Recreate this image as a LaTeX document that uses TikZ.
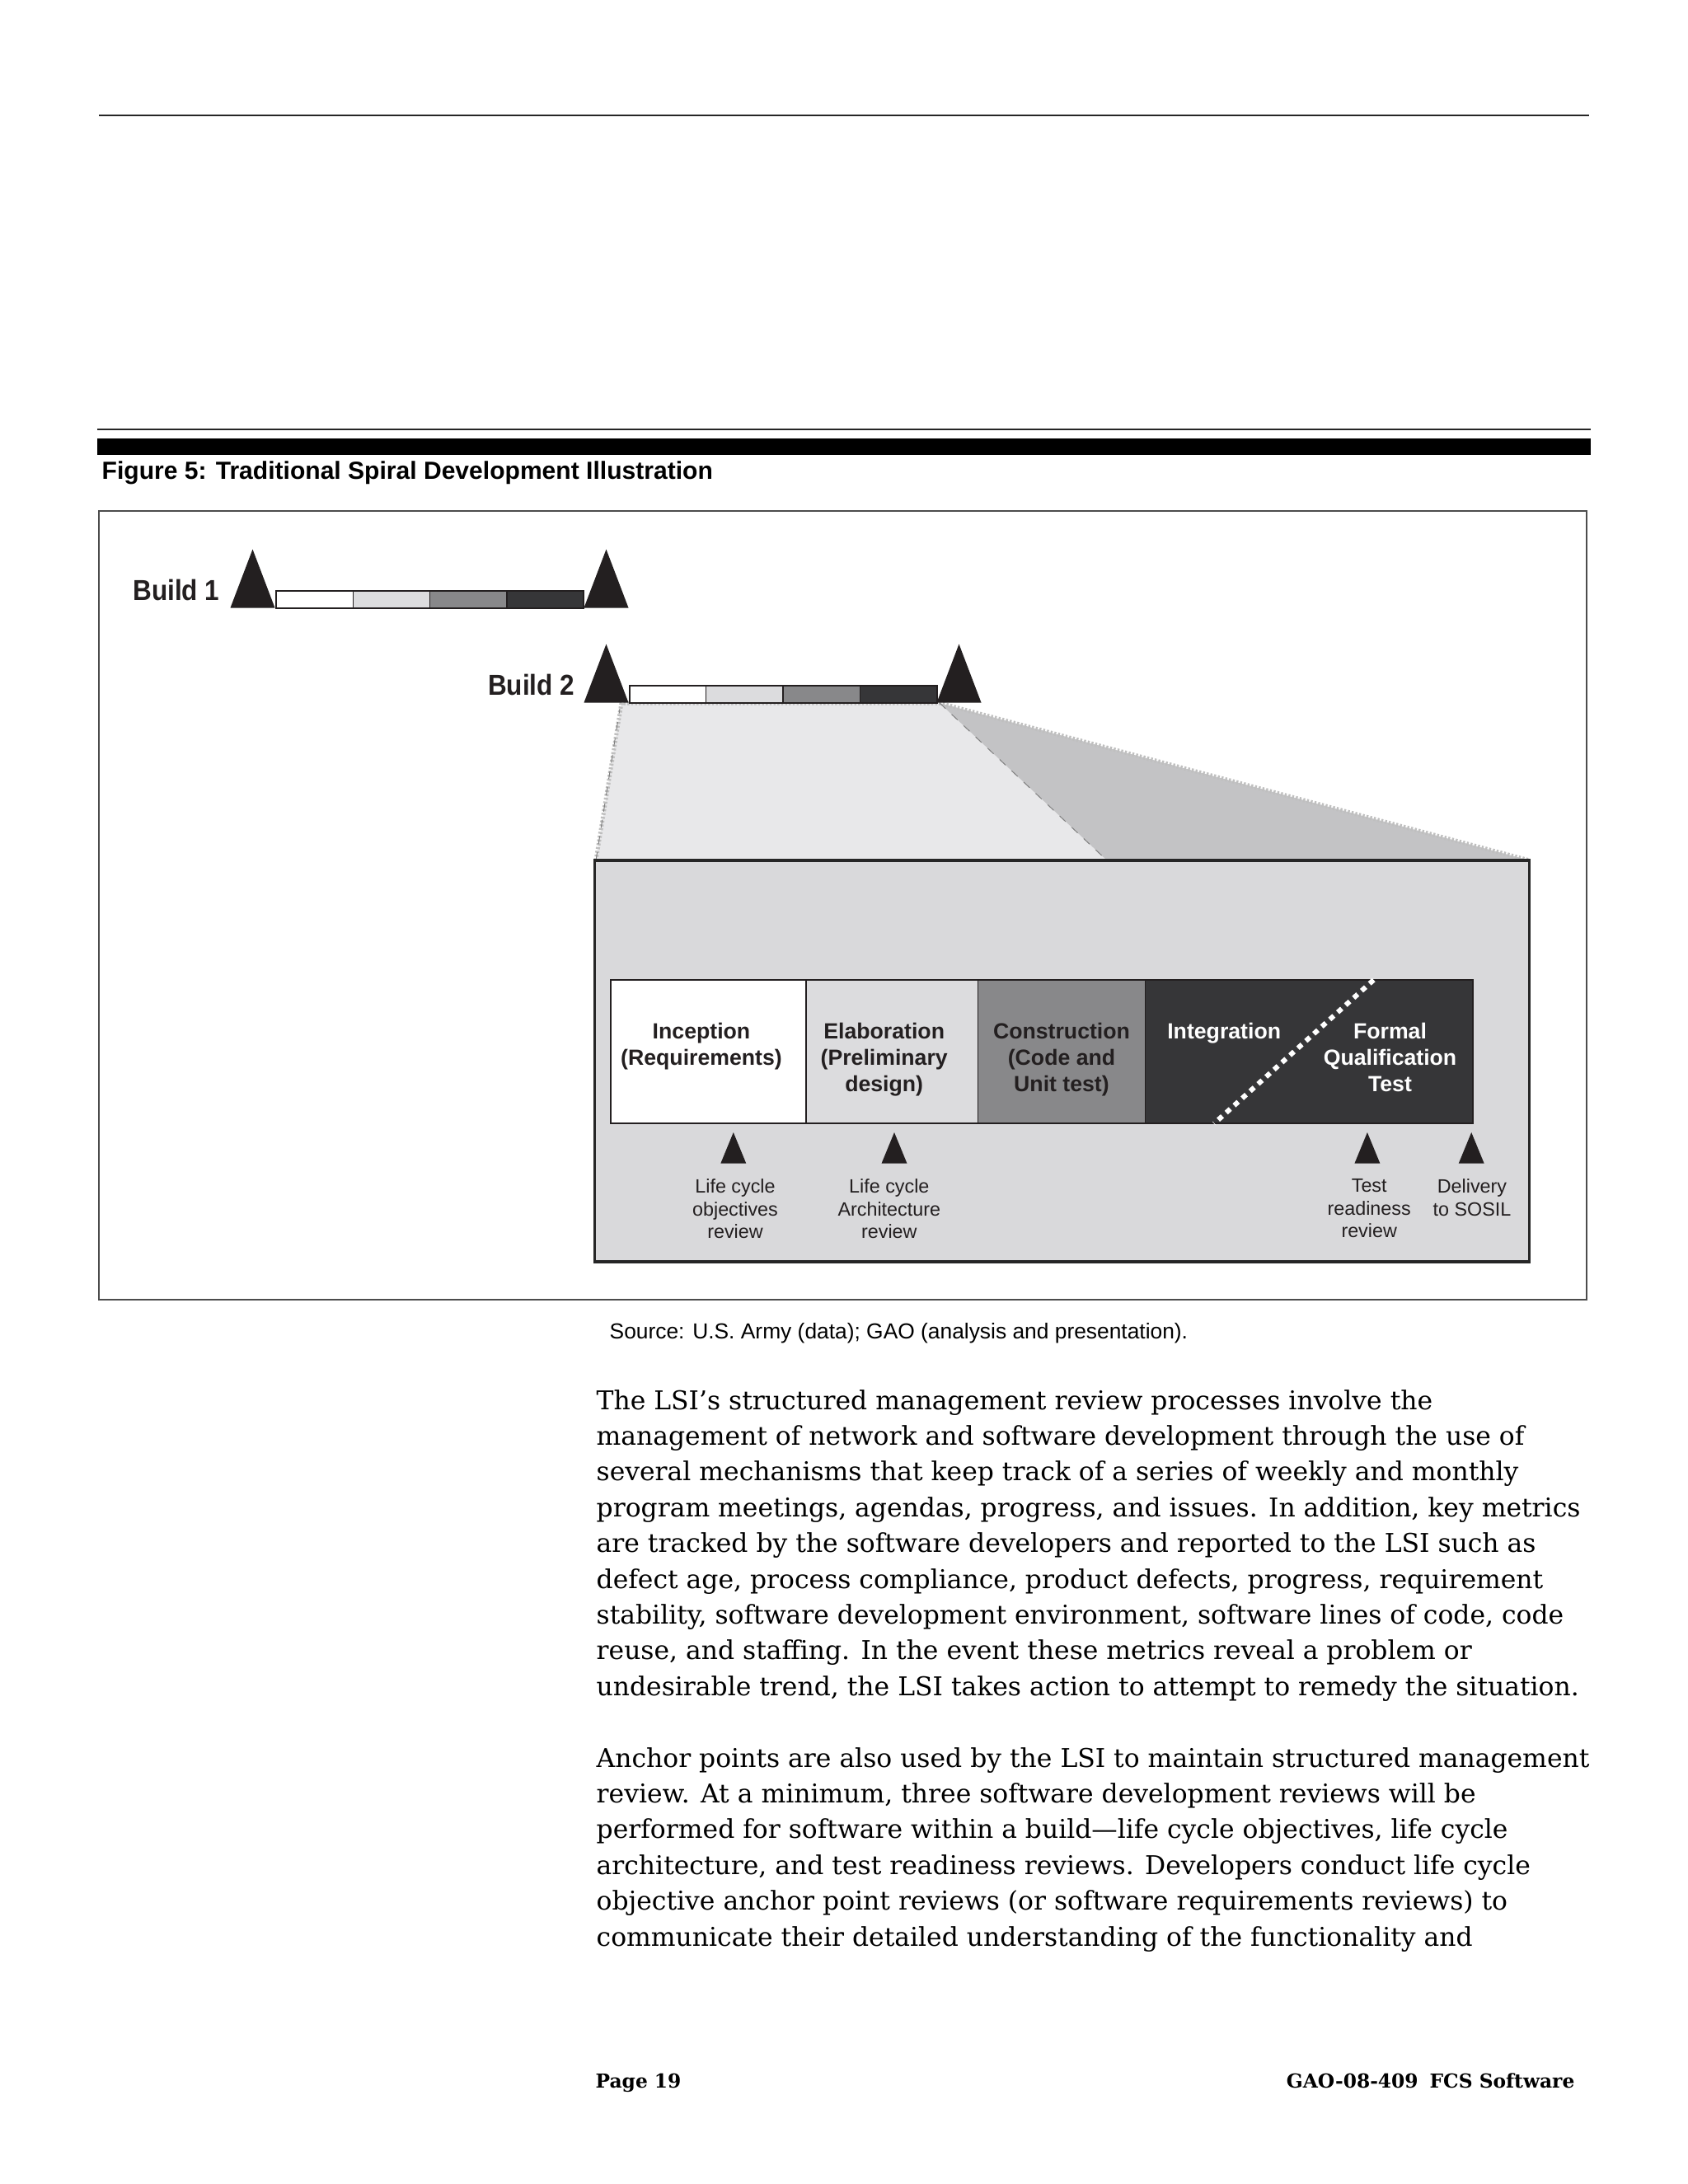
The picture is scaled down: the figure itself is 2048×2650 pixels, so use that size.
\documentclass[tikz,border=0pt]{standalone}
\usepackage{fontspec}
\setmainfont{DejaVu Serif}
\setsansfont{Liberation Sans}
\newfontfamily\narrowsans[FakeStretch=0.9]{Liberation Sans}
\definecolor{tinta}{HTML}{231f20}
\definecolor{incep}{HTML}{ffffff}
\definecolor{elab}{HTML}{dcdcde}
\definecolor{constr}{HTML}{88888a}
\definecolor{integ}{HTML}{363638}
\definecolor{caixa}{HTML}{d9d9db}
\definecolor{zoomclaro}{HTML}{e8e8ea}
\definecolor{zoomescuro}{HTML}{c3c3c5}

\begin{document}
\begin{tikzpicture}[x=0.3pt,y=-0.3pt,
  marco/.style={fill=tinta},
  phaselbl/.style={font=\sffamily\bfseries\fontsize{8}{9.5}\selectfont, align=center, inner sep=0pt, anchor=north},
  revlbl/.style={font=\sffamily\fontsize{7}{8.25}\selectfont, align=center, inner sep=0pt, anchor=north, text=tinta},
  buildlbl/.style={font=\narrowsans\bfseries\fontsize{10.5}{12}\selectfont, anchor=base east, inner sep=0pt, text=tinta},
  body/.style={font=\fontsize{9.42}{13}\selectfont, inner sep=0pt, anchor=base west},
  foot/.style={font=\bfseries\fontsize{7}{9}\selectfont, inner sep=0pt},
  zoomedge/.style={gray!50, line width=1.5pt, dash pattern=on 0.7pt off 0.7pt}]
% pagina
\fill[white] (0,0) rectangle (2048,2650);
\useasboundingbox (0,0) rectangle (2048,2650);
\draw[line width=0.7pt, black!85] (120,140) -- (1928,140);
\draw[line width=0.75pt, black!85] (118,521) -- (1930,521);
\fill[black] (118,532) rectangle (1930,552);
\node[font=\sffamily\bfseries\fontsize{9.02}{10}\selectfont, anchor=base west, inner sep=0pt] (caption) at (123,581) {Figure 5: Traditional Spiral Development Illustration};
\draw[line width=0.45pt, black!70] (120,620) rectangle (1925,1577);
% regiao ampliada
\fill[zoomclaro] (754,853) -- (1140,853) -- (1343,1044) -- (723,1044) -- cycle;
\fill[zoomescuro] (1140,853) -- (1856,1044) -- (1343,1044) -- cycle;
\draw[zoomedge] (723,1044) -- (754,853) -- (1140,853) -- (1856,1044);
\draw[gray, line width=0.3pt, dashed] (1140,853) -- (1343,1044);
\draw[gray, line width=0.3pt, dashed] (723,1044) -- (752,860);
% builds
\foreach \bx/\by in {335/717,763.5/832} {
  \foreach \c [count=\i from 0] in {incep,elab,constr,integ}
    \fill[\c] ({\bx+93.3*\i},\by) rectangle ({\bx+93.3*(\i+1)},{\by+20.5});
  \foreach \i in {1,2,3} \draw[line width=0.4pt, tinta] ({\bx+93.3*\i},\by) -- ++(0,20.5);
  \draw[line width=0.6pt, tinta] (\bx,\by) rectangle ({\bx+373.2},{\by+20.5});
}
\foreach \x/\y in {306.5/737.5, 735.5/737.5, 735.5/852.5, 1163.5/852.5}
  \fill[marco] ({\x-27},\y) -- (\x,{\y-71}) -- ({\x+27},\y) -- cycle;
\node[buildlbl] (build1) at (267,728) {Build 1};
\node[buildlbl] (build2) at (697.7,843.3) {Build 2};
% caixa do build 2
\fill[caixa] (721.5,1044) rectangle (1855.5,1531);
\draw[line width=1pt, black!85] (721.5,1044) rectangle (1855.5,1531);
\foreach \a/\b/\c in {740.6/977.8/incep, 977.8/1186.7/elab, 1186.7/1389.5/constr, 1389.5/1786.7/integ}
  \fill[\c] (\a,1189) rectangle (\b,1363.3);
\foreach \x in {977.8,1186.7,1389.5} \draw[line width=0.45pt, tinta] (\x,1189) -- (\x,1363.3);
\draw[line width=0.6pt, tinta] (740.6,1189) rectangle (1786.7,1363.3);
\draw[white, line width=1.8pt, dash pattern=on 2pt off 1.9pt] (1666.6,1189) -- (1473,1363.3);
\node[phaselbl, text=tinta] (inception) at (851,1240.7) {Inception\\(Requirements)};
\node[phaselbl, text=tinta] (elaboration) at (1072.7,1240.7) {Elaboration\\(Preliminary\\design)};
\node[phaselbl, text=tinta] (construction) at (1288,1240.7) {Construction\\(Code and\\Unit test)};
\node[phaselbl, text=white] (integration) at (1485.2,1240.7) {Integration};
\node[phaselbl, text=white] (fqt) at (1686.5,1240.7) {Formal\\Qualification\\Test};
% revisoes
\foreach \x in {889.8,1085,1658.9,1785.2}
  \fill[marco] ({\x-15.5},1411.7) -- (\x,1374) -- ({\x+15.5},1411.7) -- cycle;
\node[revlbl] (lco) at (892,1430) {Life cycle\\objectives\\review};
\node[revlbl] (lca) at (1078.8,1430) {Life cycle\\Architecture\\review};
\node[revlbl] (trr) at (1661.2,1430) {Test\\readiness\\review};
\node[revlbl] (sosil) at (1786,1430) {Delivery\\to SOSIL};
\node[font=\sffamily\fontsize{7.91}{9}\selectfont, anchor=base west, inner sep=0pt] (source) at (739,1624) {Source: U.S. Army (data); GAO (analysis and presentation).};
% texto
\foreach \n/\txt in {
  0/{The LSI’s structured management review processes involve the},
  1/{management of network and software development through the use of},
  2/{several mechanisms that keep track of a series of weekly and monthly},
  3/{program meetings, agendas, progress, and issues. In addition, key metrics},
  4/{are tracked by the software developers and reported to the LSI such as},
  5/{defect age, process compliance, product defects, progress, requirement},
  6/{stability, software development environment, software lines of code, code},
  7/{reuse, and staffing. In the event these metrics reveal a problem or},
  8/{undesirable trend, the LSI takes action to attempt to remedy the situation.},
  10/{Anchor points are also used by the LSI to maintain structured management},
  11/{review. At a minimum, three software development reviews will be},
  12/{performed for software within a build—life cycle objectives, life cycle},
  13/{architecture, and test readiness reviews. Developers conduct life cycle},
  14/{objective anchor point reviews (or software requirements reviews) to},
  15/{communicate their detailed understanding of the functionality and}}
  \node[body] (line\n) at (723,{1710+43.4*\n}) {\txt};
\node[foot, anchor=base west] (pagenum) at (722,2533) {Page 19};
\node[foot, anchor=base east] (report) at (1911,2533) {GAO-08-409\hspace{0.6em}FCS Software};
\end{tikzpicture}
\end{document}
